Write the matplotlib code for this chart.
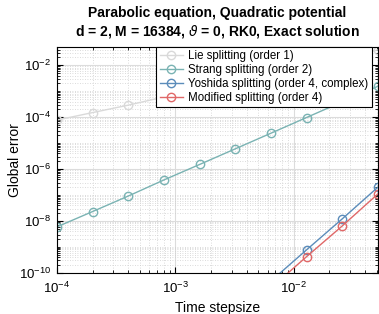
import numpy as np
import matplotlib.pyplot as plt
from matplotlib.ticker import NullFormatter

plt.rcParams['font.family'] = ['Liberation Sans', 'DejaVu Sans']
plt.rcParams['mathtext.fontset'] = 'dejavusans'

# time step sizes
dt = [1e-4, 2e-4, 4e-4, 8e-4, 1.6e-3, 3.2e-3, 6.4e-3, 1.28e-2, 2.56e-2, 5.12e-2]

# global errors
err_lie = [7.7e-5, 1.5e-4, 2.9e-4, 6.0e-4, 1.2e-3, 2.4e-3, 4.9e-3, 9.8e-3, 2.0e-2, 3.9e-2]
err_strang = [5.9e-9, 2.3e-8, 9.1e-8, 3.8e-7, 1.5e-6, 6.0e-6, 2.4e-5, 9.7e-5, 3.9e-4, 1.55e-3]
err_yoshida = [1.9e-13, 3.0e-12, 4.8e-11, 7.7e-10, 1.2e-8, 2.0e-7]
err_modified = [1.0e-13, 1.6e-12, 2.6e-11, 4.2e-10, 6.4e-9, 1.1e-7]

labels = ['Lie splitting (order 1)', 'Strang splitting (order 2)',
          'Yoshida splitting (order 4, complex)', 'Modified splitting (order 4)']
colors = ['#d9d9d9', '#7ab3b3', '#5b8cba', '#e06868']

xticks = [1e-4, 1e-3, 1e-2]
xticklabels = [r'$\mathdefault{10^{-4}}$', r'$\mathdefault{10^{-3}}$', r'$\mathdefault{10^{-2}}$']
yticks = [1e-10, 1e-8, 1e-6, 1e-4, 1e-2]
yticklabels = [r'$\mathdefault{10^{-10}}$', r'$\mathdefault{10^{-8}}$', r'$\mathdefault{10^{-6}}$',
               r'$\mathdefault{10^{-4}}$', r'$\mathdefault{10^{-2}}$']

fig = plt.figure(figsize=(3.79, 3.14), dpi=100)
ax = fig.add_axes([0.150, 0.131, 0.847, 0.719])

mk = dict(marker='o', markersize=6, markerfacecolor='none', linewidth=1.0, markeredgewidth=1.0)
ax.loglog(dt, err_lie, color=colors[0], label=labels[0], **mk)
ax.loglog(dt, err_strang, color=colors[1], label=labels[1], **mk)
ax.loglog(dt[4:], err_yoshida, color=colors[2], label=labels[2], **mk)
ax.loglog(dt[4:], err_modified, color=colors[3], label=labels[3], **mk)

xmin, xmax = 1e-4, 5.12e-2
ymin, ymax = 1e-10, 10**-1.3
ax.set_xlim(xmin, xmax)
ax.set_ylim(ymin, ymax)

xminor = [m * 10.0**e for e in range(-4, -1) for m in range(2, 10) if m * 10.0**e < xmax]
yminor = [m * 10.0**e for e in range(-10, -1) for m in range(1, 10)
          if ymin < m * 10.0**e < ymax and m * 10.0**e not in yticks]
ax.set_xticks(xticks, xticklabels)
ax.set_yticks(yticks, yticklabels)
ax.set_xticks(xminor, minor=True)
ax.set_yticks(yminor, minor=True)
ax.xaxis.set_minor_formatter(NullFormatter())
ax.yaxis.set_minor_formatter(NullFormatter())

ax.grid(True, which='major', color='#dcdcdc', linewidth=0.8, linestyle='-')
ax.grid(True, which='minor', color='#cfcfcf', linewidth=0.6, linestyle=(0, (1, 2)))
ax.set_axisbelow(True)
ax.tick_params(which='both', direction='in', top=True, right=True, labelsize=9.5)
ax.tick_params(which='major', length=4)
ax.tick_params(which='minor', length=2)
ax.tick_params(axis='x', which='major', pad=6)
ax.tick_params(axis='y', which='major', pad=4)
for s in ax.spines.values():
    s.set_linewidth(0.8)

ax.set_xlabel('Time stepsize', fontsize=10, labelpad=3)
ax.set_ylabel('Global error', fontsize=10, labelpad=-2)
ax.set_title('Parabolic equation, Quadratic potential\n'
             r'd = 2, M = 16384, $\vartheta$ = 0, RK0, Exact solution',
             fontsize=10, fontweight='bold', pad=8.5, linespacing=1.25)

leg = ax.legend(loc='upper right', bbox_to_anchor=(372 / 379, 1 - 47 / 314),
                bbox_transform=fig.transFigure, fontsize=8.3,
                frameon=True, fancybox=False, edgecolor='black', framealpha=1,
                handlelength=2.0, handletextpad=0.5, borderpad=0.3, labelspacing=0.15,
                borderaxespad=0)
leg.get_frame().set_linewidth(0.8)

fig.savefig('out.png', dpi=100)
